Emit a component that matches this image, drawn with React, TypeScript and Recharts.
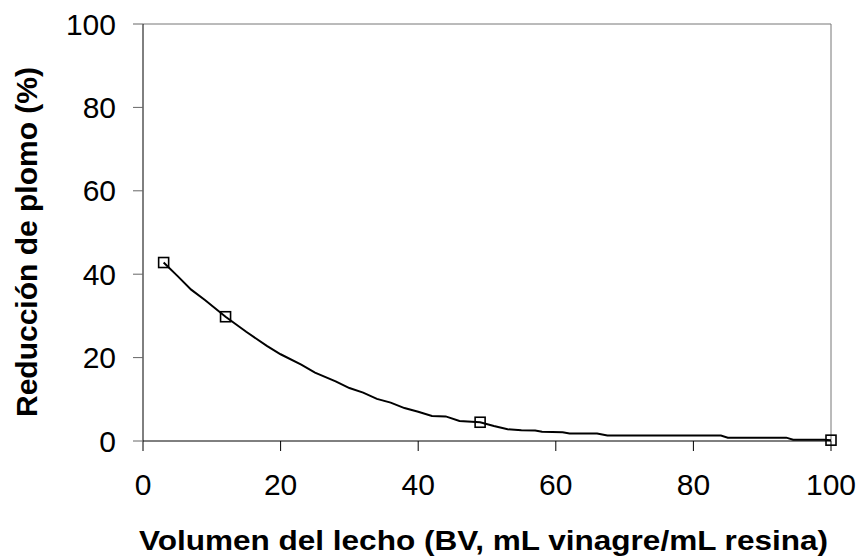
import React from 'react';
import {
  ComposedChart,
  Line,
  Scatter,
  XAxis,
  YAxis,
  ReferenceLine,
  Label,
} from 'recharts';

// measured points (BV, % reduction)
const bedVolume = [3, 12, 49, 100];
const leadReduction = [42.8, 29.8, 4.5, 0.2];

// fitted curve
const curveBV = [
  3, 5, 7, 9, 12, 15, 18, 20, 23, 25, 28, 30, 32, 34, 36, 38, 40, 42, 44, 46,
  49, 51, 53, 55, 57, 58, 61, 62, 66, 67.5, 84, 85, 93.5, 94.5, 99, 100,
];
const curveReduction = [
  42.8, 39.6, 36.3, 33.8, 29.8, 26.2, 22.8, 20.8, 18.3, 16.4, 14.3, 12.7, 11.6,
  10.1, 9.2, 7.9, 7.0, 6.0, 5.9, 4.8, 4.5, 3.6, 2.8, 2.6, 2.5, 2.2, 2.1, 1.8,
  1.8, 1.3, 1.3, 0.8, 0.8, 0.3, 0.3, 0.2,
];

const xTicks = [0, 20, 40, 60, 80, 100];
const yTicks = [0, 20, 40, 60, 80, 100];

const points = bedVolume.map((x, i) => ({ x, y: leadReduction[i] }));
const curve = curveBV.map((x, i) => ({ x, y: curveReduction[i] }));

const font = '"Liberation Sans", Arial, sans-serif';

const Square = (props: any) => {
  const { cx, cy } = props;
  return (
    <rect
      x={cx - 5}
      y={cy - 5}
      width={10}
      height={10}
      fill='none'
      stroke='#000'
      strokeWidth={1.6}
    />
  );
};

const YTitle = () => {
  const cx = 37;
  const cy = 242;
  return (
    <text
      x={cx}
      y={cy}
      transform={`rotate(-90, ${cx}, ${cy})`}
      textAnchor='middle'
      fontFamily={font}
      fontWeight='bold'
      fontSize={30}
      fill='#000'
    >
      Reducción de plomo (%)
    </text>
  );
};

const XTitle = () => (
  <text
    x={483.5}
    y={550}
    textAnchor='middle'
    fontFamily={font}
    fontWeight='bold'
    fontSize={28}
    textLength={689}
    lengthAdjust='spacingAndGlyphs'
    fill='#000'
  >
    Volumen del lecho (BV, mL vinagre/mL resina)
  </text>
);

export default function App() {
  return (
    <div style={{ position: 'absolute', left: 0, top: 0 }}>
      <ComposedChart
        width={862}
        height={558}
        margin={{ top: 24, right: 31, bottom: 0, left: 0 }}
      >
        <XAxis
          type='number'
          dataKey='x'
          domain={[0, 100]}
          ticks={xTicks}
          height={117}
          tickSize={10}
          tickMargin={23}
          stroke='#000'
          tick={{ fill: '#000', fontSize: 30, fontFamily: font }}
        >
          <Label content={<XTitle />} />
        </XAxis>
        <YAxis
          type='number'
          dataKey='y'
          domain={[0, 100]}
          ticks={yTicks}
          width={143}
          tickSize={10}
          tickMargin={17}
          stroke='#000'
          tickLine={{ stroke: '#666' }}
          tick={{ fill: '#000', fontSize: 30, fontFamily: font }}
        >
          <Label content={<YTitle />} />
        </YAxis>
        <ReferenceLine y={100} stroke='#777' strokeWidth={1} />
        <ReferenceLine x={100} stroke='#777' strokeWidth={1} />
        <Line
          data={curve}
          dataKey='y'
          type='linear'
          stroke='#000'
          strokeWidth={2}
          dot={false}
          activeDot={false}
          isAnimationActive={false}
        />
        <Scatter
          data={points}
          dataKey='y'
          shape={<Square />}
          isAnimationActive={false}
        />
      </ComposedChart>
    </div>
  );
}
